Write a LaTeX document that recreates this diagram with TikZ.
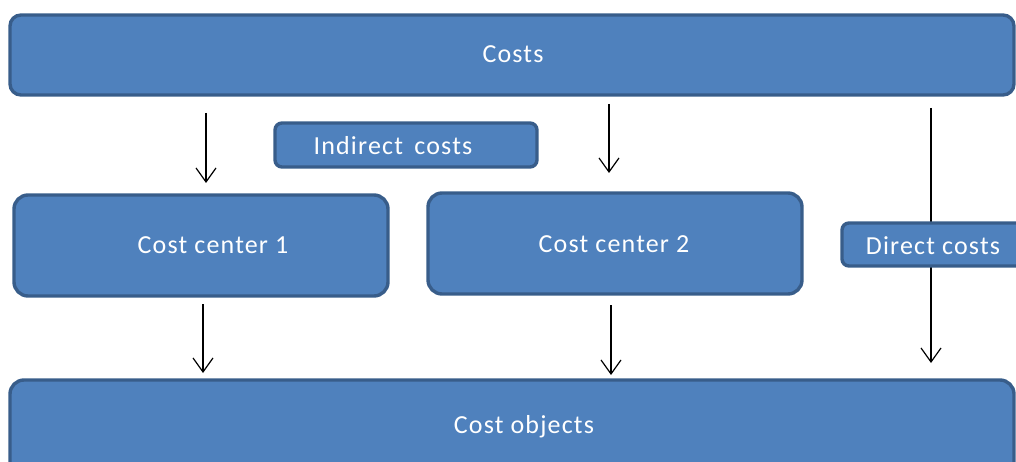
\documentclass[tikz,border=0pt]{standalone}
\usepackage{fontspec}
\setmainfont{Carlito}
\newfontfamily\boxfont[LetterSpace=4.5]{Carlito}
\usetikzlibrary{arrows.meta}
\definecolor{boxfill}{HTML}{4F81BD}
\definecolor{boxline}{HTML}{385D8A}
\tikzset{
  box/.style={draw=boxline, fill=boxfill, line width=3.4pt, rounded corners=#1},
  box/.default=10pt,
  lbl/.style={text=white, font=\boxfont\fontsize{26}{30}\selectfont, inner sep=0pt},
  flow/.style={draw=black, line width=1.2pt, -{Straight Barb[length=14pt,width=20pt,line width=1.2pt]}}
}
\begin{document}
\begin{tikzpicture}[x=1pt,y=-1pt]
\useasboundingbox (0,0) rectangle (1016,462);
\clip (0,0) rectangle (1016,462);
% arrow coordinates
\coordinate (a1s) at (206,113); \coordinate (a1e) at (206,183);
\coordinate (a2s) at (609,104); \coordinate (a2e) at (609,173);
\coordinate (a3s) at (931,108); \coordinate (a3e) at (931,363);
\coordinate (a4s) at (203,304); \coordinate (a4e) at (203,373);
\coordinate (a5s) at (611,305); \coordinate (a5e) at (611,375);
\draw[flow] (a3s) -- (a3e);
% boxes
\draw[box=11pt] (10,15) rectangle (1014,95);
\node[lbl] (costs) at (513,54) {Costs};
\draw[box=7pt] (275,123) rectangle (537,167);
\node[lbl] (indirect) at (393,146) {Indirect\ \,costs};
\draw[box=14pt] (14,195) rectangle (388,296);
\node[lbl] (cc1) at (213,245) {Cost center 1};
\draw[box=14pt] (428,193) rectangle (802,294);
\node[lbl] (cc2) at (614,244) {Cost center 2};
\draw[box=7pt] (842,223) rectangle (1040,266);
\node[lbl] (direct) at (933,246) {Direct costs};
\draw[box=14pt] (10,380) rectangle (1014,490);
\node[lbl] (objects) at (524,427) {Cost objects};
% arrows
\draw[flow] (a1s) -- (a1e);
\draw[flow] (a2s) -- (a2e);
\draw[flow] (a4s) -- (a4e);
\draw[flow] (a5s) -- (a5e);
\end{tikzpicture}
\end{document}
